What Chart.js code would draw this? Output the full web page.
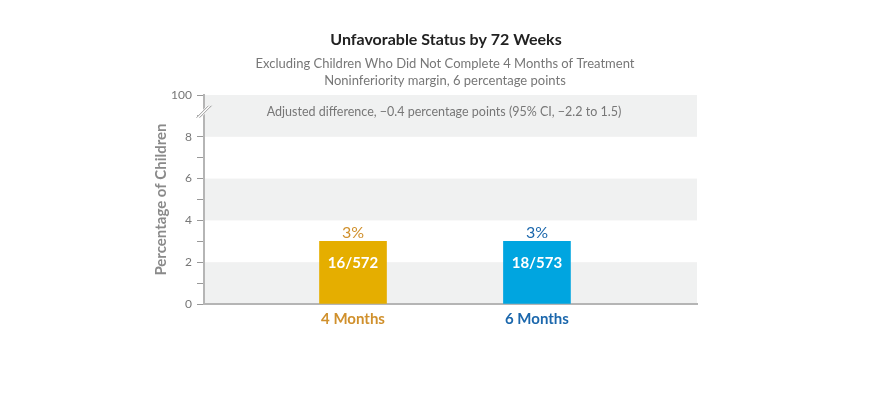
<!DOCTYPE html>
<html>
<head>
<meta charset="utf-8">
<script src="https://cdn.jsdelivr.net/npm/chart.js@4/dist/chart.umd.min.js"></script>
<style>
  html, body { margin: 0; padding: 0; background: #fff; }
  #wrap { width: 878px; height: 393px; }
</style>
</head>
<body>
<div id="wrap"><canvas id="chart-area" width="878" height="393"></canvas></div>
<script>
// data
var categories = ['4 Months', '6 Months'];
var percentValues = [3, 3];
var countLabels = ['16/572', '18/573'];
var percentLabels = ['3%', '3%'];
var yTickValues = [0, 2, 4, 6, 8, 10];
var yTickText = ['0', '2', '4', '6', '8', '100'];

var titleText = 'Unfavorable Status by 72 Weeks';
var subtitleLines = ['Excluding Children Who Did Not Complete 4 Months of Treatment',
                     'Noninferiority margin, 6 percentage points'];
var noteText = 'Adjusted difference, \u22120.4 percentage points (95% CI, \u22122.2 to 1.5)';

var barColors = ['#E5AE00', '#00A5E0'];
var textColors = ['#D0902C', '#1B67AC'];
var FONT = 'Lato, "Noto Sans", sans-serif';

var points = categories.map(function (c, i) {
    return { x: i + 1, y: percentValues[i] };
});

var extras = {
    id: 'extras',
    beforeDraw: function (chart) {
        var ctx = chart.ctx, a = chart.chartArea, y = chart.scales.y;
        ctx.save();
        ctx.fillStyle = '#F0F1F1';
        [[0, 2], [4, 6], [8, 10]].forEach(function (b) {
            var top = y.getPixelForValue(b[1]), bot = y.getPixelForValue(b[0]);
            ctx.fillRect(a.left, top, a.right - a.left, bot - top);
        });
        ctx.restore();
    },
    afterDraw: function (chart) {
        var ctx = chart.ctx, a = chart.chartArea, y = chart.scales.y;
        var meta = chart.getDatasetMeta(0);
        ctx.save();
        ctx.textAlign = 'center';
        ctx.textBaseline = 'middle';

        // titles
        ctx.fillStyle = '#222';
        ctx.font = 'bold 16px ' + FONT;
        ctx.fillText(titleText, 446, 40);
        ctx.fillStyle = '#777';
        ctx.font = '13px ' + FONT;
        ctx.fillText(subtitleLines[0], 445, 64);
        ctx.fillText(subtitleLines[1], 445, 81);
        ctx.font = '12.5px ' + FONT;
        ctx.fillText(noteText, 444, 112);

        // bar labels
        meta.data.forEach(function (bar, i) {
            ctx.fillStyle = textColors[i];
            ctx.font = '16px ' + FONT;
            ctx.fillText(percentLabels[i], bar.x, bar.y - 8);
            ctx.fillStyle = '#fff';
            ctx.font = 'bold 15px ' + FONT;
            ctx.fillText(countLabels[i], bar.x, bar.y + 22);
        });

        // axis break mark
        var by = y.getPixelForValue(9.2);
        ctx.strokeStyle = '#fff';
        ctx.lineWidth = 4;
        ctx.beginPath();
        ctx.moveTo(a.left - 5, by + 5);
        ctx.lineTo(a.left + 5, by - 5);
        ctx.stroke();
        ctx.strokeStyle = '#999';
        ctx.lineWidth = 1;
        [-1.5, 1.5].forEach(function (o) {
            ctx.beginPath();
            ctx.moveTo(a.left - 6 + o, by + 6);
            ctx.lineTo(a.left + 6 + o, by - 6);
            ctx.stroke();
        });
        ctx.restore();
    }
};

var config = {
    type: 'bar',
    data: {
        datasets: [{
            data: points,
            backgroundColor: barColors,
            barThickness: 67,
            borderWidth: 0
        }]
    },
    options: {
        responsive: false,
        animation: false,
        layout: { padding: { left: 150, right: 181, top: 95, bottom: 0 } },
        plugins: { legend: { display: false }, tooltip: { enabled: false } },
        scales: {
            x: {
                type: 'linear',
                offset: false,
                min: 0.19,
                max: 2.87,
                afterBuildTicks: function (scale) {
                    scale.ticks = categories.map(function (c, i) { return { value: i + 1 }; });
                },
                afterFit: function (scale) { scale.height = 89; },
                grid: { display: false, drawTicks: false },
                border: { color: '#B5B5B5', width: 2 },
                ticks: {
                    padding: 6,
                    autoSkip: false,
                    maxRotation: 0,
                    callback: function (v) { return categories[v - 1]; },
                    color: function (c) { return textColors[c.index]; },
                    font: { family: FONT, size: 15, weight: 'bold' }
                }
            },
            y: {
                min: 0,
                max: 10,
                afterFit: function (scale) { scale.width = 54; },
                grid: { drawOnChartArea: false, tickLength: 7, color: '#999', tickWidth: 1 },
                border: { color: '#B5B5B5', width: 2 },
                ticks: {
                    stepSize: 1,
                    padding: 5,
                    color: '#777',
                    font: { family: FONT, size: 12 },
                    callback: function (v) {
                        var k = yTickValues.indexOf(v);
                        return k >= 0 ? yTickText[k] : '';
                    }
                },
                title: {
                    display: true,
                    text: 'Percentage of Children',
                    color: '#8A8A8A',
                    font: { family: FONT, size: 15, weight: 'bold' },
                    padding: 2
                }
            }
        }
    },
    plugins: [extras]
};

var ctx = document.getElementById('chart-area').getContext('2d');
var myChart = new Chart(ctx, config);
</script>
</body>
</html>
